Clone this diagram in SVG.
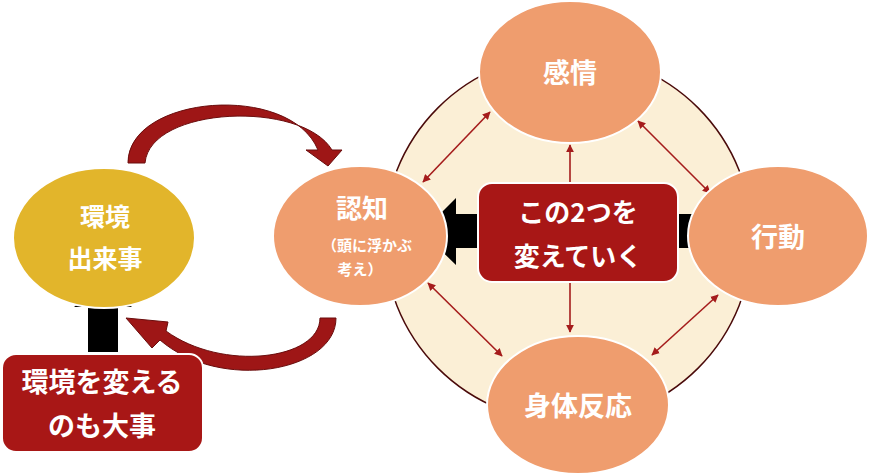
<svg xmlns="http://www.w3.org/2000/svg" width="871" height="476" viewBox="0 0 871 476">
<defs>
<style>
.node{fill:#ef9d6e;stroke:#fff;stroke-width:2}
.t{font-family:"Noto Sans CJK JP","Noto Sans",sans-serif;font-weight:bold;fill:#fff;text-anchor:middle}
.ln{stroke:#a51c1c;stroke-width:1.6;fill:none;marker-start:url(#ah);marker-end:url(#ah)}
.ln1{stroke:#a51c1c;stroke-width:1.6;fill:none;marker-end:url(#ah)}
.curve{fill:#9e1616;stroke:#6a0d0d;stroke-width:1}
</style>
<marker id="ah" viewBox="0 0 10 10" refX="9" refY="5" markerWidth="5" markerHeight="5" orient="auto-start-reverse"><path d="M0,0 L10,5 L0,10 z" fill="#a51c1c"/></marker>
</defs>
<rect width="871" height="476" fill="#fff"/>
<circle cx="568" cy="238" r="184" fill="#fbefd6" stroke="#4a0a0a" stroke-width="1.5"/>
<g id="connectors">
<path class="curve" d="M128,163 C128,95 290,82 318,150 L306,150 L328,166 L342,150 L332,150 C302,100 150,106 145,163 Z"/>
<path class="curve" d="M320,318 L336,318 C336,372 220,392 160,340 L152,348 L126,318 L168,322 L166,331 C222,372 320,360 320,318 Z"/>
<path class="ln" d="M490,112 L423,182"/>
<path class="ln" d="M638,121 L710,193"/>
<path class="ln1" d="M570,182 L570,145"/>
<path class="ln1" d="M570,283 L570,332"/>
<path class="ln" d="M428,283 L502,356"/>
<path class="ln" d="M718,295 L652,355"/>
<path d="M480,214 L456,214 L456,198 L422,232 L456,265 L456,248 L480,248 Z" fill="#000"/>
<path d="M678,214 L709,214 L709,198 L743,232 L709,265 L709,248 L678,248 Z" fill="#000"/>
<path d="M88,352 L88,307 L74,307 L103,282 L132,307 L118,307 L118,352 Z" fill="#000"/>
</g>
<g id="kanjo"><ellipse class="node" cx="570" cy="72" rx="91" ry="71"/><text class="t" x="570" y="83" font-size="27">感情</text></g>
<g id="kodo"><ellipse class="node" cx="778" cy="236" rx="90" ry="70"/><text class="t" x="778" y="247" font-size="27">行動</text></g>
<g id="shintai"><ellipse class="node" cx="578" cy="405" rx="91" ry="69"/><text class="t" x="578" y="416" font-size="27">身体反応</text></g>
<g id="ninchi"><ellipse class="node" cx="360" cy="236" rx="87" ry="70"/><text class="t" x="362" y="218" font-size="26">認知</text><text class="t" x="367" y="251" font-size="15">（頭に浮かぶ</text><text class="t" x="360" y="275" font-size="15">考え）</text></g>
<g id="kankyo"><ellipse cx="104" cy="238" rx="91" ry="70" fill="#e2b52b" stroke="#fff" stroke-width="2"/><text class="t" x="105" y="226" font-size="25">環境</text><text class="t" x="105" y="268" font-size="25">出来事</text></g>
<g id="center"><rect x="478" y="183" width="200" height="99" rx="14" fill="#a81716" stroke="#fff" stroke-width="2"/><text class="t" x="578" y="222" font-size="26">この2つを</text><text class="t" x="578" y="266" font-size="26">変えていく</text></g>
<g id="change"><rect x="2" y="354" width="201" height="98" rx="14" fill="#a81716" stroke="#fff" stroke-width="2"/><text class="t" x="102" y="392" font-size="27">環境を変える</text><text class="t" x="102" y="436" font-size="27">のも大事</text></g>
</svg>
